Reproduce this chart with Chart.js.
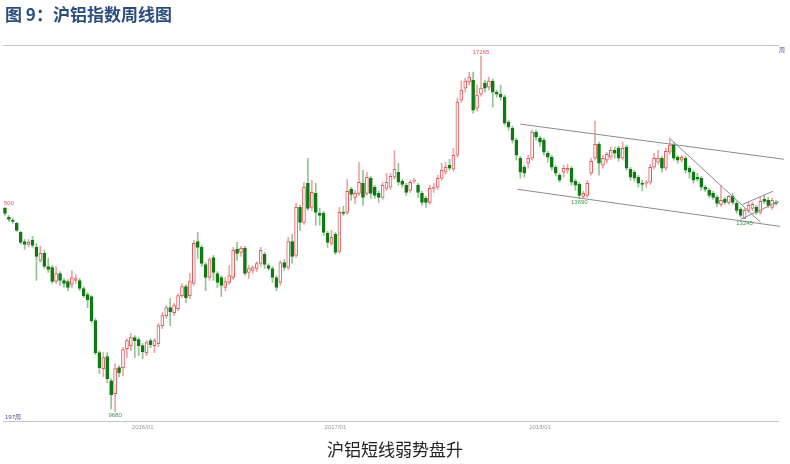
<!DOCTYPE html>
<html>
<head>
<meta charset="utf-8">
<script src="https://cdn.jsdelivr.net/npm/chart.js@4.4.0/dist/chart.umd.min.js"></script>
<style>
body { margin: 0; background: #fff; width: 790px; height: 464px; overflow: hidden; position: relative; font-family: "Noto Sans CJK SC", sans-serif; }
#wrap { position: absolute; left: 0; top: 0; width: 790px; height: 464px; }
#title { position: absolute; left: 5px; top: 1px; font-size: 17px; font-weight: bold; color: #2b4c7e; }
#caption { position: absolute; left: 0; top: 436px; width: 790px; text-align: center; font-size: 17px; color: #222; }
</style>
</head>
<body>
<div id="wrap"><canvas id="myChart"></canvas></div>
<div id="title">图 9：沪铝指数周线图</div>
<div id="caption">沪铝短线弱势盘升</div>
<script>
// weekly OHLC
const opens = [
  13476,13280,13215,13151,12959,12770,12709,12791,12647,12381,
  12524,12261,12241,11965,12122,11984,11965,11906,11984,11984,
  11829,11714,11675,11227,10657,10383,10588,10181,9968,10400,
  10400,10726,10779,10921,10885,10779,10657,10867,10779,10814,
  11136,11320,11468,11375,11449,11694,11868,11694,11926,12770,
  12647,12301,12043,12442,12122,12043,11848,11945,12043,12606,
  12544,12626,12142,12181,12221,12321,12503,12281,12221,12043,
  11945,12341,12241,12770,12483,13498,13172,14037,13498,13810,
  13367,13367,12938,12729,12917,12565,13389,13389,13900,13720,
  13810,14037,13810,14152,13946,13810,13720,13923,13946,14175,
  14291,14083,13992,13877,14083,13992,13810,13698,13609,13923,
  13946,14152,14291,14455,14361,14692,16070,16388,16549,16603,
  15862,16228,16522,16415,16576,16281,16228,16149,15505,15354,
  15056,14621,14408,14502,14621,15254,15106,15056,14740,14645,
  14408,14221,14291,14337,14384,14083,14014,13742,13765,14268,
  14621,14958,14455,14573,14645,14812,14861,14621,14886,14361,
  14291,14175,14037,14037,14060,14408,14526,14621,14384,14764,
  14958,14645,14573,14621,14384,14291,14175,14152,13946,13877,
  13810,13720,13565,13675,13609,13742,13587,13454,13255,13432,
  13476,13498,13389,13675,13653,13498,13609
];
const closes = [
  13367,13237,13194,13001,12750,12709,12750,12688,12463,12524,
  12261,12201,11965,12122,11984,11926,11848,12043,12023,11829,
  11694,11618,11227,10657,10400,10571,10215,9952,10383,10315,
  10709,10867,10921,10867,10779,10674,10832,10797,10867,11136,
  11320,11468,11394,11505,11694,11868,11656,11965,12729,12647,
  12321,12043,12401,12142,11945,11887,11965,12082,12585,12524,
  12626,12122,12221,12241,12321,12585,12301,12221,12043,11848,
  12341,12241,12770,12463,13498,13172,13946,13476,13832,13389,
  13323,12959,12750,12854,12544,13389,13367,13855,13787,13810,
  14060,13720,14175,13810,13765,13720,13992,14060,14198,14361,
  14060,14014,13832,14060,14106,13832,13609,13609,13923,13946,
  14152,14337,14408,14384,14692,16018,16334,16576,16685,15810,
  16202,16388,16388,16576,16281,16228,16149,15480,15379,15056,
  14692,14291,14268,14621,15254,15130,15007,14764,14645,14408,
  14268,14106,14384,14384,14060,13992,13765,13810,14037,14549,
  14958,14502,14621,14716,14812,14740,14621,14861,14384,14175,
  14152,14037,14014,14060,14408,14621,14621,14384,14788,14934,
  14621,14573,14645,14337,14291,14106,14129,13946,13900,13765,
  13720,13587,13653,13609,13742,13609,13432,13323,13432,13542,
  13565,13389,13631,13631,13542,13653,13587
];
const highs = [
  13498,13323,13258,13172,12980,12812,12812,12875,12729,12667,
  12585,12422,12281,12261,12161,12023,12004,12181,12102,12023,
  11868,11752,11694,11264,10691,10657,10657,10215,10468,10434,
  10744,10903,10992,10957,10921,10814,10867,10903,10903,11173,
  11375,11505,11637,11543,11733,11926,11906,12122,12791,12959,
  12688,12341,12442,12483,12161,12082,12043,12281,12647,12750,
  12667,12667,12281,12281,12361,12647,12544,12321,12261,12082,
  12381,12401,12854,12917,13587,13542,14060,14621,14106,14037,
  13476,13410,12980,13001,12959,13498,13520,14129,13946,13877,
  14526,14337,14291,14198,13992,13855,14060,14268,14268,14812,
  14502,14129,14037,14106,14152,14037,13855,13742,13992,14037,
  14221,14502,14526,14597,14861,16123,16576,16657,16821,16821,
  16469,17265,16603,16685,16630,16334,16469,16202,15555,15404,
  15106,14668,14455,14692,15304,15304,15155,15106,14788,14692,
  14455,14268,14455,14479,14431,14129,14060,13855,14106,14621,
  15530,15007,14692,14764,14886,14886,14910,15007,14934,14408,
  14337,14221,14106,14106,14479,14740,14812,14668,14861,15106,
  15007,14692,14692,14668,14431,14337,14268,14198,13992,13923,
  13855,13765,13992,13720,13765,13810,13631,13498,13476,13609,
  13609,13542,13720,13765,13720,13698,13653
];
const lows = [
  13323,13194,13151,12980,12709,12606,12667,12647,11984,12341,
  12221,12142,11926,11926,11887,11848,11790,11848,11926,11790,
  11656,11468,11191,10622,10299,10248,10148,9727,9680,10248,
  10265,10571,10691,10571,10605,10553,10605,10744,10657,10761,
  11082,11264,11136,11320,11412,11656,11562,11637,11887,12422,
  12261,11790,11984,11984,11848,11675,11790,11906,12004,12381,
  12463,12082,12023,12122,12161,12261,12221,12181,11945,11790,
  11887,12181,12201,12321,12442,13001,13130,13432,13432,13108,
  13108,12896,12647,12688,12503,12524,13323,13345,13653,13587,
  13765,13542,13765,13698,13698,13609,13675,13877,13900,14129,
  13992,13946,13765,13832,14037,13720,13542,13498,13565,13832,
  13900,14106,14244,14337,14314,14645,16018,16281,16469,15734,
  15785,16176,16281,16334,15888,16149,16070,15430,15304,14983,
  14573,14152,14175,14384,14573,15056,14910,14692,14526,14337,
  14198,14060,14175,14268,13992,13877,13690,13700,13720,14221,
  14573,14221,14384,14502,14597,14621,14549,14573,14337,14106,
  14083,13946,13877,13946,14014,14361,14479,14291,14337,14716,
  14573,14502,14526,14268,14152,14037,14083,13877,13855,13720,
  13675,13520,13520,13565,13565,13565,13367,13280,13245,13389,
  13432,13345,13345,13587,13498,13454,13542
];

// x-axis tick labels and the week they sit on
const tickLabels = ['2016/01', '2017/01', '2018/01'];
const tickWeeks = [35, 84, 136];

// marked extremes: week, which price
const markWeeks = [121, 28, 146, 188];
const markKinds = ['high', 'low', 'low', 'low'];

// hand drawn channel lines, in (week, price)
const upperChannel = [{x: 131.0, y: 15455}, {x: 198.0, y: 14597}];
const lowerChannel = [{x: 130.3, y: 13900}, {x: 197.0, y: 13087}];
const fallLine = [{x: 169.2, y: 15081}, {x: 192.1, y: 13172}];
const riseUpper = [{x: 187.5, y: 13565}, {x: 195.2, y: 13855}];
const riseLower = [{x: 187.0, y: 13237}, {x: 196.7, y: 13631}];

const RED = '#e2585a';
const RED_WICK = '#f0a3a3';
const GREEN = '#0e7a12';
const GREEN_WICK = '#93c393';

const weekLabels = opens.map(() => '');
tickWeeks.forEach((w, k) => { weekLabels[w] = tickLabels[k]; });

const up = opens.map((o, i) => closes[i] >= o);
const wickData = lows.map((l, i) => [l, highs[i]]);
const bodyData = opens.map((o, i) => [Math.min(o, closes[i]), Math.max(o, closes[i])]);

function trend(points) {
    return {
        type: 'line',
        data: points,
        xAxisID: 'xLin',
        yAxisID: 'y',
        borderColor: '#8c8c8c',
        borderWidth: 1,
        pointRadius: 0,
        clip: false,
        order: 0
    };
}

const labelPlugin = {
    id: 'marks',
    afterDatasetsDraw(chart) {
        const ctx = chart.ctx;
        const x = chart.scales.x;
        const y = chart.scales.y;
        const area = chart.chartArea;
        ctx.save();
        ctx.font = '6px "Liberation Sans", "Noto Sans CJK SC"';
        ctx.textAlign = 'center';
        markWeeks.forEach((w, k) => {
            const px = x.getPixelForValue(w);
            if (markKinds[k] === 'high') {
                ctx.fillStyle = RED;
                ctx.textBaseline = 'bottom';
                ctx.fillText(String(highs[w]), px, y.getPixelForValue(highs[w]) - 1);
            } else {
                ctx.fillStyle = '#3c9a44';
                ctx.textBaseline = 'top';
                ctx.fillText(String(lows[w]), px, y.getPixelForValue(lows[w]) + 1);
            }
        });
        // left edge label of first bar
        ctx.fillStyle = RED;
        ctx.textAlign = 'left';
        ctx.textBaseline = 'bottom';
        ctx.fillText('500', x.getPixelForValue(0) - 1, y.getPixelForValue(highs[0]) - 1);
        ctx.fillStyle = '#4a4aa0';
        ctx.fillText('197周', area.left + 2, area.bottom - 1);
        ctx.textBaseline = 'middle';
        ctx.fillText('周', area.right + 1, area.top + 5);
        ctx.restore();
    }
};

const config = {
    data: {
        labels: weekLabels,
        datasets: [
            trend(upperChannel),
            trend(lowerChannel),
            trend(fallLine),
            trend(riseUpper),
            trend(riseLower),
            {
                type: 'bar',
                label: 'body',
                data: bodyData,
                xAxisID: 'x',
                yAxisID: 'y',
                grouped: false,
                barThickness: 3,
                minBarLength: 1,
                backgroundColor: up.map(u => u ? '#ffffff' : GREEN),
                borderColor: up.map(u => u ? RED : GREEN),
                borderWidth: 1,
                borderSkipped: false,
                order: 1
            },
            {
                type: 'bar',
                label: 'wick',
                data: wickData,
                xAxisID: 'x',
                yAxisID: 'y',
                grouped: false,
                barThickness: 1,
                backgroundColor: up.map(u => u ? RED_WICK : GREEN_WICK),
                borderWidth: 0,
                order: 2
            }
        ]
    },
    options: {
        responsive: true,
        maintainAspectRatio: false,
        animation: false,
        layout: { padding: { left: 3, right: 12, top: 45, bottom: 31 } },
        plugins: { legend: { display: false }, tooltip: { enabled: false } },
        scales: {
            x: {
                type: 'category',
                position: 'bottom',
                offset: true,
                grid: { display: false, drawTicks: false },
                border: { display: true, color: '#c4c4c4', width: 1 },
                ticks: {
                    autoSkip: false,
                    maxRotation: 0,
                    padding: 2,
                    color: '#9a9a9a',
                    font: { size: 6, family: '"Liberation Sans"' }
                }
            },
            xTop: {
                type: 'category',
                position: 'top',
                grid: { display: false, drawTicks: false },
                border: { display: true, color: '#c4c4c4', width: 1 },
                ticks: { display: false }
            },
            xLin: {
                type: 'linear',
                display: false,
                min: -0.5,
                max: opens.length - 0.5
            },
            y: {
                type: 'logarithmic',
                display: false,
                min: 9524,
                max: 17577
            }
        }
    },
    plugins: [labelPlugin]
};

var myChart = new Chart(document.getElementById('myChart'), config);
</script>
</body>
</html>
